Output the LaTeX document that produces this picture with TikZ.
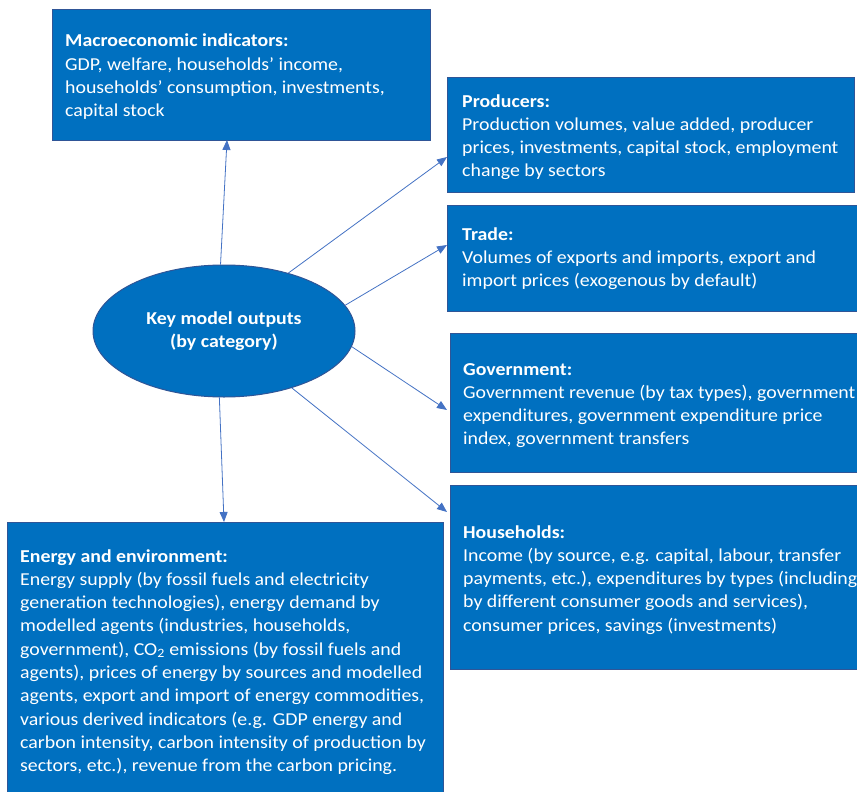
\documentclass[tikz,border=0pt]{standalone}
\usepackage{fontspec}
\setmainfont{Carlito}[FakeStretch=1.09]
\usetikzlibrary{shapes.geometric,arrows.meta}
\definecolor{boxblue}{HTML}{0070C0}
\definecolor{edgeblue}{HTML}{2F5597}
\definecolor{arrowblue}{HTML}{4472C4}
\newcommand{\lines}[1]{\begin{tabular}[t]{@{}l@{}}#1\end{tabular}}
\tikzset{
  outbox/.style={draw=edgeblue, line width=1pt, fill=boxblue, anchor=north west, inner sep=0pt},
  boxtext/.style={anchor=base west, inner sep=0pt, text=white, font=\fontsize{18.2}{23.3}\selectfont},
  conn/.style={draw=arrowblue, line width=0.8pt, -{Triangle[length=10pt,width=8pt]}}
}
\begin{document}
\begin{tikzpicture}[x=1pt,y=-1pt]
\useasboundingbox (0,0) rectangle (857,792);
\clip (0,0) rectangle (857,792);
\fill[white] (0,0) rectangle (857,792);
% boxes
\node[outbox, minimum width=378pt, minimum height=131pt] (macro) at (52,9) {};
\node[outbox, minimum width=407pt, minimum height=115pt] (prod) at (447,77) {};
\node[outbox, minimum width=420pt, minimum height=106pt] (trade) at (447,205) {};
\node[outbox, minimum width=420pt, minimum height=139pt] (gov) at (450,333) {};
\node[outbox, minimum width=420pt, minimum height=184pt] (hh) at (450,485) {};
\node[outbox, minimum width=436pt, minimum height=290pt] (energy) at (7,522) {};
% ellipse
\node[ellipse, draw=edgeblue, line width=1pt, fill=boxblue, minimum width=262pt, minimum height=132pt, inner sep=0pt, text=white, align=center, font=\fontsize{18.2}{23.3}\selectfont\bfseries] (kmo) at (224,331) {Key model outputs\\(by category)};
% texts
\node[boxtext] (macrot) at (65,47) {\lines{\textbf{Macroeconomic indicators:}\\GDP, welfare, households’ income,\\households’ consumption, investments,\\capital stock}};
\node[boxtext] (prodt) at (462,107) {\lines{\textbf{Producers:}\\Production volumes, value added, producer\\prices, investments, capital stock, employment\\change by sectors}};
\node[boxtext] (tradet) at (462,240) {\lines{\textbf{Trade:}\\Volumes of exports and imports, export and\\import prices (exogenous by default)}};
\node[boxtext] (govt) at (463,375) {\lines{\textbf{Government:}\\Government revenue (by tax types), government\\expenditures, government expenditure price\\index, government transfers}};
\node[boxtext] (hht) at (463,538) {\lines{\textbf{Households:}\\Income (by source, e.g. capital, labour, transfer\\payments, etc.), expenditures by types (including\\by different consumer goods and services),\\consumer prices, savings (investments)}};
\node[boxtext] (energyt) at (20,562) {\lines{\textbf{Energy and environment:}\\Energy supply (by fossil fuels and electricity\\generation technologies), energy demand by\\modelled agents (industries, households,\\government), CO\textsubscript{2} emissions (by fossil fuels and\\agents), prices of energy by sources and modelled\\agents, export and import of energy commodities,\\various derived indicators (e.g. GDP energy and\\carbon intensity, carbon intensity of production by\\sectors, etc.), revenue from the carbon pricing.}};
% arrow end points
\coordinate (eMacro) at (227,140);
\coordinate (eProd) at (447,157);
\coordinate (eTrade) at (447,245);
\coordinate (eGov) at (447,410);
\coordinate (eHh) at (447,512);
\coordinate (eEnergy) at (224,522);
\draw[conn] (kmo.93) -- (eMacro);
\draw[conn] (kmo.42) -- (eProd);
\draw[conn] (kmo.12) -- (eTrade);
\draw[conn] (kmo.-7) -- (eGov);
\draw[conn] (kmo.-40) -- (eHh);
\draw[conn] (kmo.-94) -- (eEnergy);
\end{tikzpicture}
\end{document}
